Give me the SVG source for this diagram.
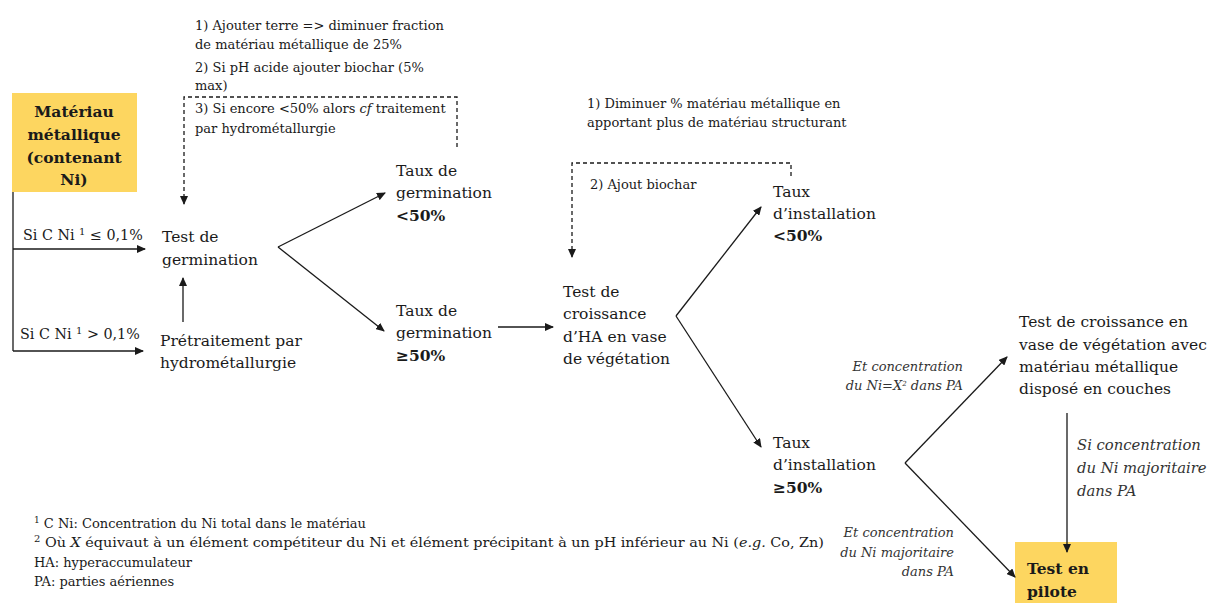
<svg xmlns="http://www.w3.org/2000/svg" width="1213" height="603" viewBox="0 0 1213 603">
<style>
.t{font-family:"DejaVu Serif","Liberation Serif",serif;font-size:15.5px;fill:#1a1a1a}
.s{font-family:"DejaVu Serif","Liberation Serif",serif;font-size:13px;fill:#1a1a1a}
.c{font-family:"DejaVu Serif","Liberation Serif",serif;font-size:14.3px;fill:#1a1a1a}
.i{font-family:"DejaVu Serif","Liberation Serif",serif;font-size:13px;font-style:italic;fill:#333}
.i2{font-family:"DejaVu Serif","Liberation Serif",serif;font-size:14.8px;font-style:italic;fill:#333}
.b{font-weight:bold}
.box{fill:#FDD660}
.ln{fill:none;stroke:#1a1a1a;stroke-width:1.3}
.da{fill:none;stroke:#1a1a1a;stroke-width:1.3;stroke-dasharray:4 3}
</style>
<defs>
<marker id="ah" markerWidth="9" markerHeight="8" refX="8" refY="4" orient="auto" markerUnits="userSpaceOnUse">
<path d="M0,0 L9,4 L0,8 z" fill="#1a1a1a"/>
</marker>
</defs>
<rect width="1213" height="603" fill="#fff"/>

<g id="materiau">
<rect class="box" x="12" y="93" width="125" height="99"/>
<text class="t b" text-anchor="middle" x="74" y="117">Matériau</text>
<text class="t b" text-anchor="middle" x="74" y="140">métallique</text>
<text class="t b" text-anchor="middle" x="74" y="163">(contenant</text>
<text class="t b" text-anchor="middle" x="74" y="185">Ni)</text>
</g>

<g id="label-le">
<text class="c" x="23" y="240">Si C Ni <tspan font-size="10" baseline-shift="super">1</tspan> ≤ 0,1%</text>
</g>
<g id="label-gt">
<text class="c" x="20" y="339">Si C Ni <tspan font-size="10" baseline-shift="super">1</tspan> &gt; 0,1%</text>
</g>

<g id="test-germination">
<text class="t" x="162" y="242">Test de</text>
<text class="t" x="162" y="265">germination</text>
</g>

<g id="pretraitement">
<text class="t" x="160" y="346">Prétraitement par</text>
<text class="t" x="160" y="368">hydrométallurgie</text>
</g>

<g id="notes-germination">
<text class="s" x="195" y="30">1) Ajouter terre =&gt; diminuer fraction</text>
<text class="s" x="195" y="49">de matériau métallique de 25%</text>
<text class="s" x="195" y="72">2) Si pH acide ajouter biochar (5%</text>
<text class="s" x="195" y="90">max)</text>
<text class="s" x="195" y="113">3) Si encore &lt;50% alors <tspan font-style="italic">cf</tspan> traitement</text>
<text class="s" x="195" y="133">par hydrométallurgie</text>
</g>

<g id="taux-germ-low">
<text class="t" x="396" y="176">Taux de</text>
<text class="t" x="396" y="198">germination</text>
<text class="t b" x="396" y="221">&lt;50%</text>
</g>

<g id="taux-germ-high">
<text class="t" x="396" y="316">Taux de</text>
<text class="t" x="396" y="338">germination</text>
<text class="t b" x="396" y="361">≥50%</text>
</g>

<g id="test-croissance">
<text class="t" x="563" y="297">Test de</text>
<text class="t" x="563" y="319">croissance</text>
<text class="t" x="563" y="342">d’HA en vase</text>
<text class="t" x="563" y="364">de végétation</text>
</g>

<g id="notes-croissance">
<text class="s" x="587" y="108">1) Diminuer % matériau métallique en</text>
<text class="s" x="587" y="127">apportant plus de matériau structurant</text>
<text class="s" x="590" y="189">2) Ajout biochar</text>
</g>

<g id="taux-inst-low">
<text class="t" x="773" y="197">Taux</text>
<text class="t" x="773" y="219">d’installation</text>
<text class="t b" x="773" y="241">&lt;50%</text>
</g>

<g id="taux-inst-high">
<text class="t" x="773" y="448">Taux</text>
<text class="t" x="773" y="470">d’installation</text>
<text class="t b" x="773" y="493">≥50%</text>
</g>

<g id="label-x">
<text class="i" text-anchor="end" x="963" y="371">Et concentration</text>
<text class="i" text-anchor="end" x="963" y="390">du Ni=X<tspan font-size="7" baseline-shift="super">2</tspan> dans PA</text>
</g>

<g id="test-couches">
<text class="t" x="1019" y="327">Test de croissance en</text>
<text class="t" x="1019" y="350">vase de végétation avec</text>
<text class="t" x="1019" y="372">matériau métallique</text>
<text class="t" x="1019" y="394">disposé en couches</text>
</g>

<g id="label-si">
<text class="i2" x="1077" y="450">Si concentration</text>
<text class="i2" x="1077" y="473">du Ni majoritaire</text>
<text class="i2" x="1077" y="496">dans PA</text>
</g>

<g id="label-maj">
<text class="i" text-anchor="end" x="954" y="537">Et concentration</text>
<text class="i" text-anchor="end" x="954" y="557">du Ni majoritaire</text>
<text class="i" text-anchor="end" x="954" y="576">dans PA</text>
</g>

<g id="test-pilote">
<rect class="box" x="1015" y="542" width="102" height="61"/>
<text class="t b" x="1027" y="574">Test en</text>
<text class="t b" x="1027" y="597">pilote</text>
</g>

<g id="footnotes">
<text class="s" x="34" y="528"><tspan font-size="9" baseline-shift="super">1</tspan> C Ni: Concentration du Ni total dans le matériau</text>
<text class="s" x="34" y="547" textLength="790" lengthAdjust="spacingAndGlyphs"><tspan font-size="9" baseline-shift="super">2</tspan> Où <tspan font-style="italic">X</tspan> équivaut à un élément compétiteur du Ni et élément précipitant à un pH inférieur au Ni (<tspan font-style="italic">e.g.</tspan> Co, Zn)</text>
<text class="s" x="34" y="567">HA: hyperaccumulateur</text>
<text class="s" x="34" y="586">PA: parties aériennes</text>
</g>

<g id="connectors">
<path class="ln" d="M13 192 V351"/>
<path class="ln" d="M13 249 H145" marker-end="url(#ah)"/>
<path class="ln" d="M13 351 H143" marker-end="url(#ah)"/>
<path class="ln" d="M183 322 V278" marker-end="url(#ah)"/>
<path class="da" d="M457 147 V97 H184 V204" marker-end="url(#ah)"/>
<path class="ln" d="M278 247 L385 193" marker-end="url(#ah)"/>
<path class="ln" d="M278 247 L384 331" marker-end="url(#ah)"/>
<path class="ln" d="M498 327 H553" marker-end="url(#ah)"/>
<path class="da" d="M791 176 V163 H572 V257" marker-end="url(#ah)"/>
<path class="ln" d="M676 316 L761 207" marker-end="url(#ah)"/>
<path class="ln" d="M676 316 L761 447" marker-end="url(#ah)"/>
<path class="ln" d="M905 463 L1007 357" marker-end="url(#ah)"/>
<path class="ln" d="M905 463 L1015 577" marker-end="url(#ah)"/>
<path class="ln" d="M1067 413 V552" marker-end="url(#ah)"/>
</g>
</svg>
